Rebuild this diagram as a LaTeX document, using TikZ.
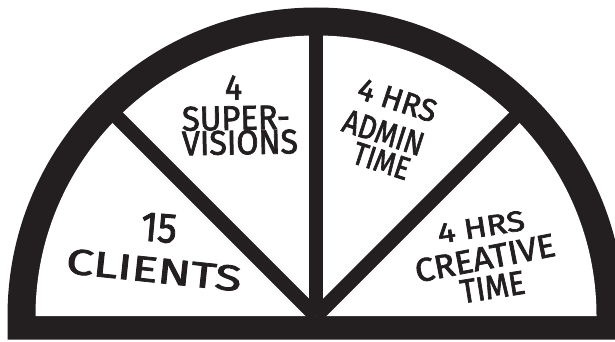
\documentclass[tikz,border=0pt]{standalone}
\usepackage{fontspec}
\usepackage{graphicx}
\newfontfamily\comicfont{Fira Sans}[FakeBold=2.2]
\definecolor{ink}{RGB}{35,31,32}
% one hand-lettered line, squeezed into a box of given width and cap height
\newcommand{\letterline}[3]{\resizebox{#1pt}{#2pt}{\comicfont #3}}
\tikzset{
  lettering/.style={inner sep=0pt, outer sep=0pt, text=ink},
  divider/.style={draw=ink, line width=14.5pt, line cap=butt}
}
\begin{document}
\begin{tikzpicture}[x=1pt,y=1pt]
  \useasboundingbox (0,0) rectangle (615,341);
  \clip (0,0) rectangle (615,341);

  % thick half-round frame standing on its base bar
  \fill[ink] (7.5,1.5) -- (7.5,25) arc[start angle=180,end angle=0,radius=308.5]
             -- (624.5,1.5) -- cycle;
  \fill[white] (35.5,25) arc[start angle=180,end angle=0,radius=280.5] -- cycle;

  % spokes from the hub dividing the half disc into four equal slices
  \coordinate (hub) at (316,25);
  \draw[divider] (hub) -- ++(45:294);
  \draw[divider] (hub) -- ++(90:294);
  \draw[divider] (hub) -- ++(135:294);

  % slice 1
  \node[lettering, rotate=-5] (n15) at (159,113) {\letterline{36}{28}{15}};
  \node[lettering, rotate=-6] (nclients) at (154,71) {\letterline{176}{25}{CLIENTS}};

  % slice 2
  \node[lettering] (nfour) at (233.5,253.5) {\letterline{17}{24}{4}};
  \node[lettering, rotate=1] (nsuper) at (236,223) {\letterline{108}{24}{SUPER-}};
  \node[lettering, rotate=1] (nvisions) at (240,198.5) {\letterline{116}{24}{VISIONS}};

  % slice 3
  \node[lettering, rotate=-18] (nhrsA) at (397.5,241) {\letterline{81}{22}{4 HRS}};
  \node[lettering, rotate=-18] (nadmin) at (383.5,208.5) {\letterline{83}{23}{ADMIN}};
  \node[lettering, rotate=-18] (ntimeA) at (381.5,180) {\letterline{58}{22}{TIME}};

  % slice 4
  \node[lettering, rotate=9] (nhrsC) at (481,114) {\letterline{88}{20}{4 HRS}};
  \node[lettering, rotate=11] (ncreative) at (485,83) {\letterline{142}{23}{CREATIVE}};
  \node[lettering, rotate=9] (ntimeC) at (492.5,54) {\letterline{65}{23}{TIME}};
\end{tikzpicture}
\end{document}
